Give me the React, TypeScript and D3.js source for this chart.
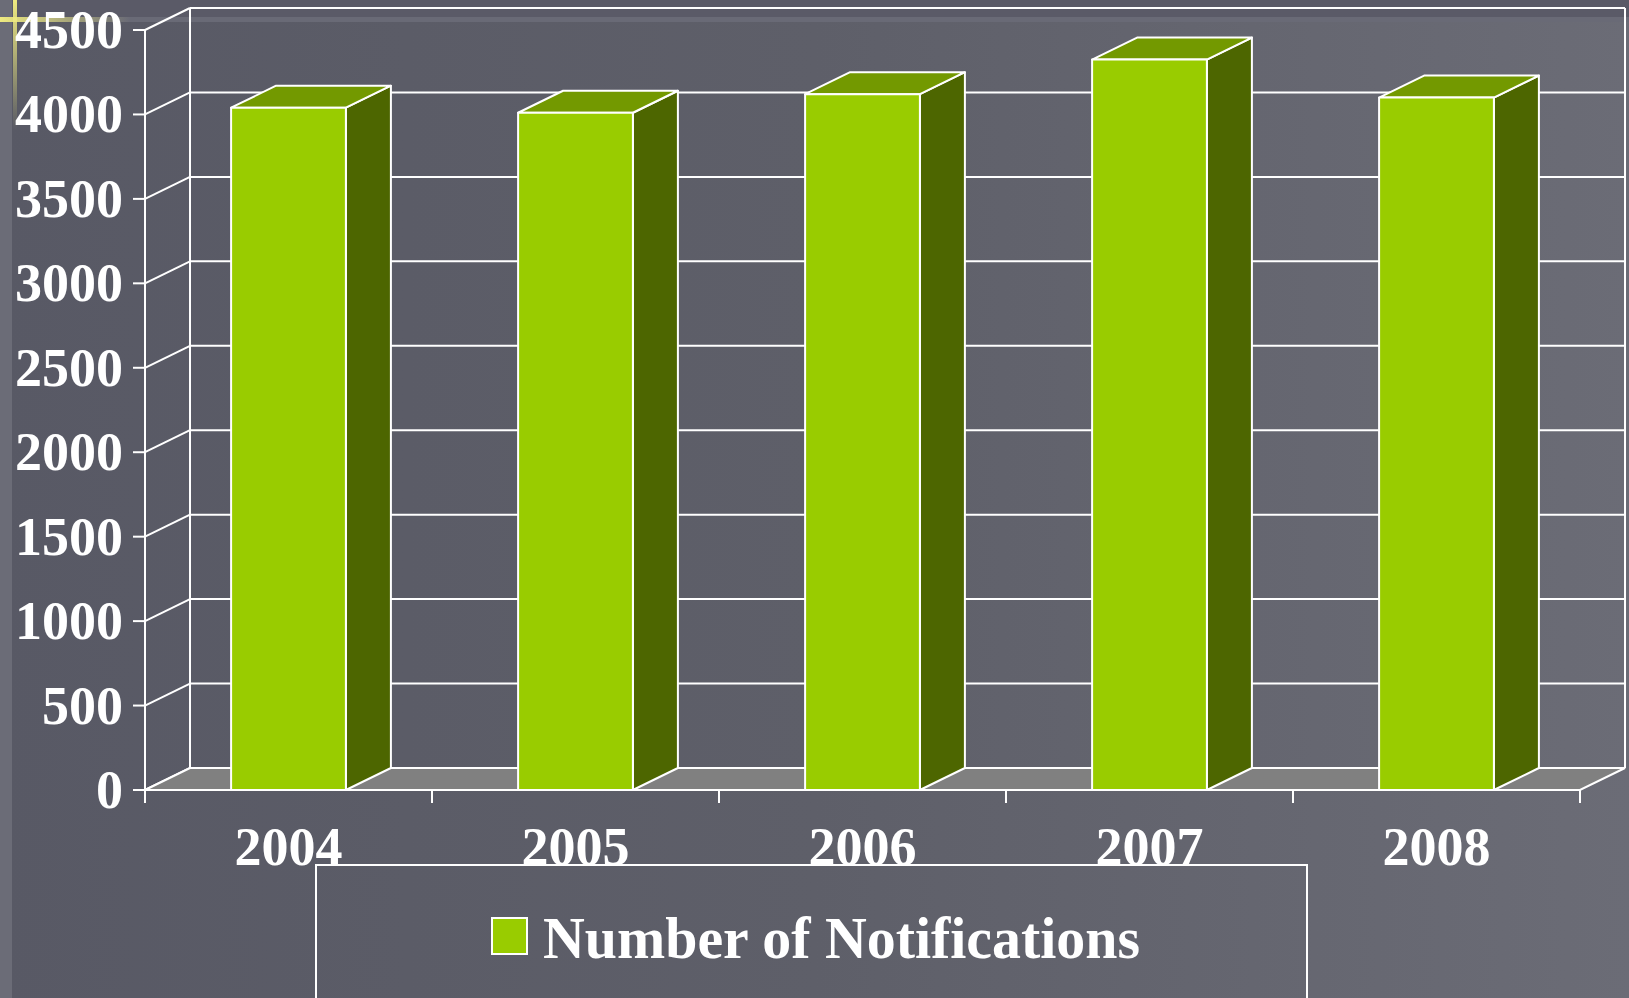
import React from 'react';
import * as d3 from 'd3';

const years: string[] = ['2004', '2005', '2006', '2007', '2008'];
const notifications: number[] = [4040, 4010, 4120, 4325, 4100];
const yTicks: number[] = [0, 500, 1000, 1500, 2000, 2500, 3000, 3500, 4000, 4500];
const seriesName = 'Number of Notifications';

const W = 1629;
const H = 998;

const App: React.FC = () => {
  // front plane of the 3D box
  const left = 145;
  const right = 1580;
  const depthX = 45;
  const depthY = -22;

  const x = d3.scaleBand<string>().domain(years).range([left, right]).padding(0);
  const y = d3.scaleLinear().domain([0, 4500]).range([790, 30]);

  const step = x.bandwidth();
  const barW = step * 0.4;
  const base = y(0);

  const font = "'Liberation Serif', 'Times New Roman', serif";
  const face = '#99cc00';
  const top = '#739900';
  const side = '#4d6600';
  const sw = 2;

  return (
    <svg
      width={W}
      height={H}
      style={{ position: 'absolute', left: 0, top: 0, display: 'block' }}
    >
      <defs>
        <linearGradient id="bg" x1="0" x2="1" y1="0" y2="0">
          <stop offset="0" stopColor="#585965" />
          <stop offset="0.5" stopColor="#5e5f69" />
          <stop offset="1" stopColor="#6b6c76" />
        </linearGradient>
        <linearGradient id="yv" x1="0" x2="0" y1="0" y2="1">
          <stop offset="0" stopColor="#eeea80" stopOpacity="1" />
          <stop offset="1" stopColor="#eeea80" stopOpacity="0" />
        </linearGradient>
        <linearGradient id="yh" x1="0" x2="1" y1="0" y2="0">
          <stop offset="0" stopColor="#eeea80" stopOpacity="1" />
          <stop offset="1" stopColor="#eeea80" stopOpacity="0" />
        </linearGradient>
      </defs>

      {/* slide background */}
      <rect x={0} y={0} width={W} height={H} fill="url(#bg)" />
      <rect x={0} y={0} width={W} height={17} fill="#5a5a67" />
      <rect x={0} y={17} width={W} height={5} fill="#696a76" />
      <rect x={0} y={0} width={12} height={H} fill="#6b6c77" />
      <rect x={13} y={0} width={4} height={130} fill="url(#yv)" />
      <rect x={0} y={17} width={130} height={5} fill="url(#yh)" />

      {/* back wall grid + side wall diagonals */}
      <g stroke="#ffffff" strokeWidth={sw} fill="none">
        {yTicks.map((t) => (
          <g key={t}>
            <line x1={left} y1={y(t)} x2={left + depthX} y2={y(t) + depthY} />
            <line
              x1={left + depthX}
              y1={y(t) + depthY}
              x2={right + depthX}
              y2={y(t) + depthY}
            />
            <line x1={left - 12} y1={y(t)} x2={left} y2={y(t)} />
          </g>
        ))}
        <line x1={left + depthX} y1={base + depthY} x2={left + depthX} y2={y(4500) + depthY} />
        <line x1={right + depthX} y1={base + depthY} x2={right + depthX} y2={y(4500) + depthY} />
      </g>

      {/* floor */}
      <polygon
        points={`${left},${base} ${right},${base} ${right + depthX},${base + depthY} ${left + depthX},${base + depthY}`}
        fill="#808080"
        stroke="#ffffff"
        strokeWidth={sw}
      />

      {/* bars */}
      {years.map((yr, i) => {
        const bx = (x(yr) || 0) + (step - barW) / 2;
        const by = y(notifications[i]);
        return (
          <g key={yr} stroke="#ffffff" strokeWidth={sw} strokeLinejoin="round">
            <polygon
              points={`${bx + barW},${by} ${bx + barW + depthX},${by + depthY} ${bx + barW + depthX},${base + depthY} ${bx + barW},${base}`}
              fill={side}
            />
            <polygon
              points={`${bx},${by} ${bx + depthX},${by + depthY} ${bx + barW + depthX},${by + depthY} ${bx + barW},${by}`}
              fill={top}
            />
            <rect x={bx} y={by} width={barW} height={base - by} fill={face} />
          </g>
        );
      })}

      {/* axes */}
      <g stroke="#ffffff" strokeWidth={sw}>
        <line x1={left} y1={base} x2={left} y2={y(4500)} />
        <line x1={left} y1={base} x2={right} y2={base} />
        {years.map((yr) => (
          <line key={yr} x1={x(yr) || 0} y1={base} x2={x(yr) || 0} y2={base + 13} />
        ))}
        <line x1={right} y1={base} x2={right} y2={base + 13} />
      </g>

      {/* y tick labels */}
      {yTicks.map((t) => (
        <text
          key={t}
          x={123}
          y={y(t) + 18}
          textAnchor="end"
          fill="#ffffff"
          fontFamily={font}
          fontWeight="bold"
          fontSize={54}
        >
          {t}
        </text>
      ))}

      {/* x tick labels */}
      {years.map((yr) => (
        <text
          key={yr}
          x={(x(yr) || 0) + step / 2}
          y={865}
          textAnchor="middle"
          fill="#ffffff"
          fontFamily={font}
          fontWeight="bold"
          fontSize={54}
        >
          {yr}
        </text>
      ))}

      {/* legend */}
      <rect x={316} y={865} width={991} height={200} fill="none" stroke="#ffffff" strokeWidth={sw} />
      <rect x={492} y={918} width={35} height={36} fill={face} stroke="#ffffff" strokeWidth={sw} />
      <text
        x={543}
        y={958}
        fill="#ffffff"
        fontFamily={font}
        fontWeight="bold"
        fontSize={60}
        textLength={597}
        lengthAdjust="spacingAndGlyphs"
      >
        {seriesName}
      </text>
    </svg>
  );
};

export default App;
